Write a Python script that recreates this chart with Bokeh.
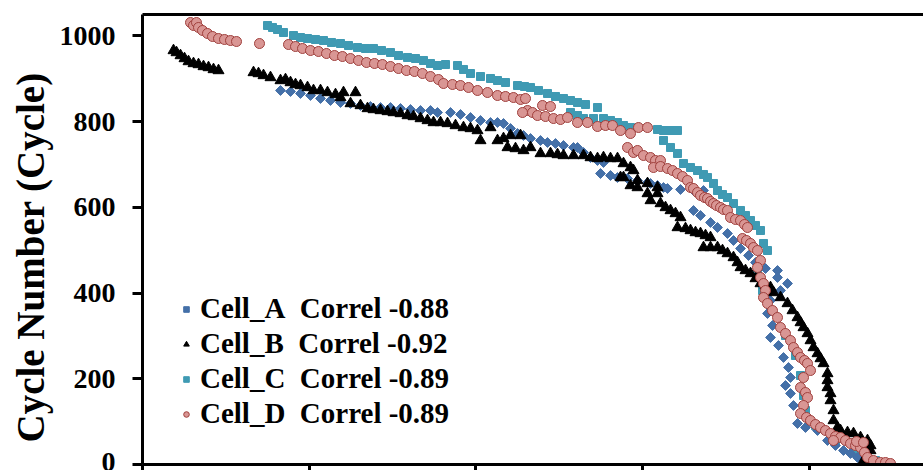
from bokeh.plotting import figure
from bokeh.models import (Legend, LegendItem, LinearAxis, FixedTicker, Title,
                          Range1d, CustomLabelingPolicy)
from bokeh.embed import file_html
from bokeh.resources import INLINE
import math

# ---------------- data ----------------
A_x = [82.8, 88.8, 94.8, 100.8, 106.8, 112.8, 118.8, 124.8, 130.8, 136.8,
       142.8, 148.8, 154.8, 160.8, 166.8, 172.8, 177, 184.8, 190.8, 196.8,
       202.8, 208.8, 213, 216.6, 220.8, 225, 228.6, 232.8, 238.8, 243,
       247.8, 252.6, 258.6, 261, 264.6, 268.8, 273, 276.6, 274.8, 280.8,
       285, 291, 297, 303, 304.8, 309, 312.6, 315, 322.8, 330.6,
       336.6, 330.6, 334.8, 340.8, 345, 351, 354.6, 358.8, 363.6, 367.8,
       373.8, 381, 387, 382.8, 376.8, 375, 378, 376.8, 381.6, 384.6,
       387.6, 388.8, 385.8, 388.8, 390.6, 393, 397.8, 405, 411, 415.8,
       420.6, 424.8, 429, 435, 381]
A_y = [872.7, 870.3, 865.7, 861, 854, 849.3, 844.7, 842.3, 837.7, 835.3,
       833, 833, 830.7, 828.3, 826, 826, 821.3, 821.3, 816.7, 809.7,
       802.7, 798, 798, 795.7, 784, 772.3, 767.7, 760.7, 756, 751.3,
       749, 744.3, 739.7, 739.7, 728, 716.3, 709.3, 704.7, 679, 674.3,
       669.7, 667.3, 662.7, 658, 655.7, 651, 646.3, 644, 641.7, 639.3,
       639.3, 592.7, 581, 564.7, 553, 539, 522.7, 504, 487.7, 471.3,
       457.3, 452.7, 422.3, 406, 382.7, 352.3, 324.3, 296.3, 277.7, 249.7,
       226.3, 203, 184.3, 165.7, 137.7, 95.7, 86.3, 79.3, 56, 44.3,
       32.7, 25.7, 16.3, 9.3, 436.3]

B_x = [18.6, 20.4, 22.8, 25.2, 27.6, 30.6, 33.6, 36.6, 39.6, 42.6,
       45.6, 66.6, 69.6, 72.6, 76.8, 82.8, 85.8, 88.8, 91.8, 94.8,
       99, 102.6, 106.8, 111, 115.8, 118.8, 120.6, 124.8, 127.8, 130.8,
       135, 138.6, 142.8, 147, 150.6, 154.8, 159, 162.6, 166.8, 171,
       174.6, 178.8, 183, 187.8, 192.6, 196.8, 201, 202.8, 208.8, 213,
       216.6, 220.8, 226.8, 219, 223.8, 228.6, 232.8, 238.8, 244.8, 249,
       252.6, 258.6, 264.6, 268.8, 273, 276.6, 280.8, 285, 288.6, 292.8,
       294.6, 286.8, 288.6, 297, 292.8, 297, 303, 303, 309, 309,
       304.8, 310.8, 313.8, 316.8, 319.8, 322.8, 321, 325.8, 328.8, 331.8,
       334.8, 337.8, 340.8, 336.6, 340.8, 345, 348, 351, 354.6, 357,
       358.8, 361.8, 364.8, 367.8, 370.8, 373.8, 376.8, 378.6, 382.8, 387,
       390, 393, 394.8, 396.6, 399, 400.8, 402.6, 405, 406.8, 408.6,
       411, 411, 411, 412.8, 412.8, 414.6, 414.6, 417, 418.8, 423,
       426.6, 430.8, 435, 436.8, 436.8, 435, 432.6]
B_y = [966, 961.3, 954.3, 947.3, 940.3, 935.7, 933.3, 928.7, 926.3, 921.7,
       919.3, 914.7, 912.3, 907.7, 903, 896, 898.3, 891.3, 886.7, 884.3,
       879.7, 872.7, 872.7, 868, 863.3, 856.3, 868, 842.3, 868, 837.7,
       830.7, 828.3, 826, 823.7, 821.3, 819, 814.3, 812, 807.3, 802.7,
       798, 798, 795.7, 791, 786.3, 784, 779.3, 756, 786.3, 756,
       760.7, 767.7, 767.7, 739.7, 737.3, 732.7, 739.7, 725.7, 725.7, 723.3,
       721, 721, 721, 716.3, 714, 716.3, 714, 714, 702.3, 693,
       686, 669.7, 669.7, 662.7, 651, 646.3, 655.7, 632.3, 646.3, 632.3,
       616, 609, 599.7, 592.7, 585.7, 576.3, 553, 550.7, 546, 541.3,
       539, 534.3, 529.7, 506.3, 506.3, 506.3, 499.3, 492.3, 483, 471.3,
       459.7, 452.7, 445.7, 434, 422.3, 417.7, 413, 401.3, 389.7, 375.7,
       359.3, 343, 331.3, 319.7, 305.7, 289.3, 273, 259, 247.3, 235.7,
       212.3, 196, 179.7, 165.7, 149.3, 126, 102.7, 86.3, 79.3, 74.7,
       72.3, 63, 56, 44.3, 32.7, 21, 9.3]

C_x = [75, 78, 81, 84.6, 90.6, 94.8, 99, 103.8, 108.6, 113.4,
       118.8, 123.6, 129, 133.8, 138.6, 143.4, 148.8, 153.6, 159, 163.8,
       168.6, 172.8, 177, 181.8, 189, 192.6, 196.8, 202.8, 208.8, 213,
       217.8, 225, 229.2, 232.8, 237.6, 243, 247.8, 252.6, 256.8, 261,
       265.8, 273, 256.8, 261, 264.6, 270.6, 276.6, 280.8, 285, 288.6,
       292.8, 309, 312.6, 316.8, 321, 312.6, 316.8, 321, 324.6, 328.8,
       333, 336.6, 339, 342.6, 345, 348, 351, 354.6, 358.8, 361.8,
       364.8, 367.8, 370.8, 372.6, 375, 369, 372, 376.8, 385.8, 391.8,
       394.8, 396.6, 397.8, 403.8, 415.8, 427.8, 439.8]
C_y = [1024.3, 1019.7, 1015, 1008, 1001, 996.3, 994, 991.7, 989.3, 984.7,
       982.3, 977.7, 973, 970.7, 970.7, 966, 961.3, 954.3, 949.7, 947.3,
       942.7, 935.7, 931, 933.3, 931, 921.7, 912.3, 905.3, 900.7, 896,
       891.3, 884.3, 882, 879.7, 872.7, 865.7, 858.7, 854, 849.3, 844.7,
       840, 833, 821.3, 814.3, 807.3, 807.3, 807.3, 802.7, 798, 791,
       786.3, 781.7, 779.3, 779.3, 779.3, 756, 739.7, 725.7, 702.3, 693,
       686, 676.7, 669.7, 655.7, 639.3, 630, 623, 609, 592.7, 581,
       569.3, 557.7, 546, 515.7, 499.3, 452.7, 406, 359.3, 301, 254.3,
       207.7, 161, 126, 91, 56, 28, 9.3]

D_x = [28.8, 30.6, 32.4, 33.6, 36, 39, 42, 45.6, 49.2, 52.8,
       56.4, 70.2, 87.6, 91.8, 96, 100.8, 105.6, 110.4, 115.2, 120,
       124.8, 129.6, 134.4, 139.2, 144, 148.8, 153.6, 158.4, 163.2, 168,
       172.8, 177.6, 180.6, 186, 190.8, 195.6, 201, 207, 213, 217.8,
       222.6, 226.8, 229.8, 231, 228, 234, 240, 244.8, 237, 241.8,
       246.6, 250.8, 255, 261, 267, 273, 277.8, 282, 286.8, 292.8,
       297.6, 303, 291, 294.6, 297, 300.6, 304.8, 307.8, 310.8, 306.6,
       310.8, 315, 318, 321, 324, 327, 328.8, 330.6, 333, 334.8,
       337.2, 339, 340.8, 342.6, 344.4, 346.8, 348.6, 351, 352.8, 355.8,
       358.8, 361.2, 363, 360, 362.4, 364.8, 366.6, 369, 370.8, 369,
       370.8, 372.6, 373.8, 372.6, 375, 378, 381, 382.8, 385.8, 388.8,
       390.6, 393, 394.8, 397.2, 399, 400.8, 396.6, 394.8, 397.8, 399,
       396.6, 394.8, 398.4, 400.8, 403.8, 406.8, 409.8, 412.8, 415.8, 418.8,
       414.6, 421.8, 424.8, 427.8, 430.8, 433.2, 435, 438.6, 442.8, 445.8,
       448.8, 428.4, 432.6]
D_y = [1031.3, 1024.3, 1031.3, 1019.7, 1012.7, 1005.7, 998.7, 994, 991.7, 989.3,
       987, 982.3, 980, 975.3, 970.7, 966, 963.7, 959, 954.3, 952,
       947.3, 942.7, 938, 935.7, 933.3, 928.7, 924, 919.3, 917, 912.3,
       905.3, 898.3, 889, 886.7, 884.3, 879.7, 872.7, 868, 861, 858.7,
       856.3, 851.7, 854, 826, 821.3, 821.3, 837.7, 835.3, 814.3, 812,
       807.3, 805, 809.7, 798, 798, 788.7, 791, 791, 779.3, 772.3,
       786.3, 786.3, 739.7, 728, 732.7, 721, 716.3, 709.3, 709.3, 693,
       695.3, 690.7, 686, 679, 672, 662.7, 646.3, 644, 634.7, 627.7,
       623, 620.7, 613.7, 609, 604.3, 599.7, 595, 592.7, 576.3, 571.7,
       569.3, 560, 553, 527.3, 522.7, 515.7, 506.3, 499.3, 476, 459.7,
       436.3, 422.3, 406, 389.7, 375.7, 359.3, 343, 319.7, 305.7, 289.3,
       273, 261.3, 249.7, 242.7, 235.7, 219.3, 203, 179.7, 168, 156.3,
       137.7, 119, 109.7, 102.7, 93.3, 86.3, 79.3, 72.3, 65.3, 63,
       56, 56, 49, 44.3, 39.7, 28, 16.3, 9.3, 4.7, 4.7,
       2.3, 53.7, 51.3]

labels = ["Cell_A\u00a0\u00a0Correl -0.88", "Cell_B\u00a0\u00a0Correl -0.92",
          "Cell_C\u00a0\u00a0Correl -0.89", "Cell_D\u00a0\u00a0Correl -0.89"]
y_ticks = [0, 200, 400, 600, 800, 1000]
x_ticks = [0, 100, 200, 300, 400]
y_title = "Cycle Number (Cycle)"

FONT = "Liberation Serif"

p = figure(width=923, height=470, output_backend="svg", toolbar_location=None,
           x_range=Range1d(0, 468.6), y_range=Range1d(0, 1050),
           min_border_left=142, min_border_right=0, min_border_top=14,
           min_border_bottom=6)
p.outline_line_color = None
p.xgrid.visible = False
p.ygrid.visible = False
p.background_fill_color = "white"

# axes
xa = p.xaxis[0]
xa.ticker = FixedTicker(ticks=x_ticks)
xa.major_label_policy = CustomLabelingPolicy(code="return new Set()")
xa.major_label_text_font_size = "1px"
xa.major_label_standoff = 0
xa.major_tick_out = 0
xa.major_tick_in = -7
xa.minor_tick_out = 0
xa.minor_tick_in = 0
xa.axis_line_width = 3
xa.major_tick_line_width = 3

ya = p.yaxis[0]
ya.ticker = FixedTicker(ticks=y_ticks)
ya.major_label_text_font = FONT
ya.major_label_text_font_style = "bold"
ya.major_label_text_font_size = "28px"
ya.major_label_text_color = "black"
ya.major_label_standoff = 17
ya.major_tick_out = 10
ya.major_tick_in = 0
ya.minor_tick_out = 0
ya.minor_tick_in = 0
ya.axis_line_width = 3
ya.major_tick_line_width = 3

top = LinearAxis(ticker=FixedTicker(ticks=[]), axis_line_width=3,
                 major_tick_out=0, major_tick_in=0, minor_tick_out=0,
                 minor_tick_in=0, major_label_text_font_size="1px",
                 major_label_standoff=0)
p.add_layout(top, "above")

ytitle = Title(text=y_title, align="left", offset=22, standoff=10,
               text_font=FONT, text_font_style="bold",
               text_font_size="39px", text_color="black")
p.add_layout(ytitle, "left")

# series (drawing order: C, A, B, D)
rC = p.scatter(C_x, C_y, marker="square", size=8, fill_color="#3F9AB3",
               line_color="#3F9AB3")
rA = p.scatter(A_x, A_y, marker="square", size=7, angle=math.pi / 4,
               fill_color="#4470A8", line_color="#4470A8")
rB = p.scatter(B_x, B_y, marker="triangle", size=11, fill_color="black",
               line_color="black")
rD = p.scatter(D_x, D_y, marker="circle", size=10, fill_color="#D99694",
               line_color="#A0403D", line_width=1)

legend = Legend(items=[LegendItem(label=labels[0], renderers=[rA]),
                       LegendItem(label=labels[1], renderers=[rB]),
                       LegendItem(label=labels[2], renderers=[rC]),
                       LegendItem(label=labels[3], renderers=[rD])],
                location=(37, 34))
legend.label_text_font = FONT
legend.label_text_font_style = "bold"
legend.label_text_font_size = "29px"
legend.label_text_color = "black"
legend.background_fill_alpha = 0
legend.border_line_alpha = 0
legend.padding = 0
legend.margin = 0
legend.spacing = 2
legend.glyph_width = 14
legend.glyph_height = 14
legend.label_standoff = 7
p.add_layout(legend, "center")

open("out.html", "w").write(file_html(p, INLINE))
